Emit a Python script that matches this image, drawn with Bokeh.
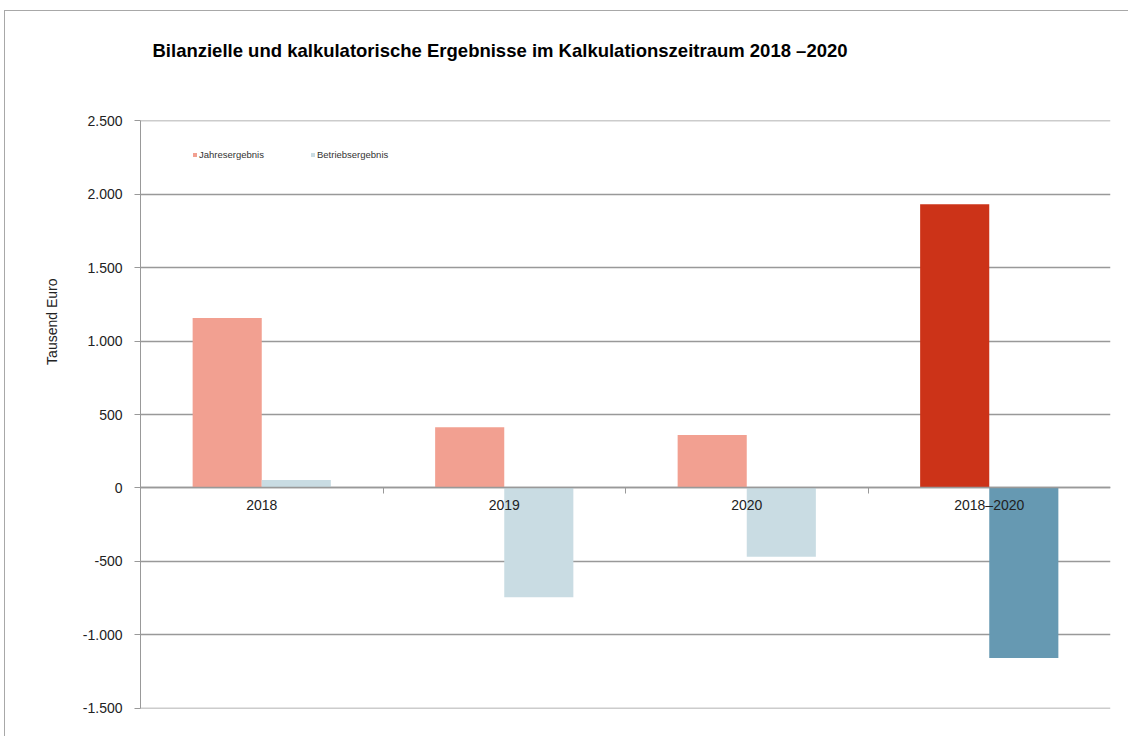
from bokeh.plotting import figure
from bokeh.models import Range1d, FixedTicker, LinearAxis, Legend, LegendItem, Title, Grid
from bokeh.embed import file_html
from bokeh.resources import INLINE

categories = ["2018", "2019", "2020", "2018–2020"]
jahresergebnis = [1157, 414, 360, 1931]
betriebsergebnis = [55, -743, -469, -1157]
j_colors = ["#F2A091", "#F2A091", "#F2A091", "#CC3318"]
b_colors = ["#C9DCE3", "#C9DCE3", "#C9DCE3", "#6699B2"]
y_ticks = [-1500, -1000, -500, 0, 500, 1000, 1500, 2000, 2500]
y_tick_labels = ["-1.500", "-1.000", "-500", "0", "500", "1.000", "1.500", "2.000", "2.500"]

FONT = "Liberation Sans"
bar_w = 0.285
n = len(categories)
centers = [i + 0.5 for i in range(n)]

p = figure(width=1124, height=726, output_backend="svg", toolbar_location=None,
           x_range=Range1d(0, n), y_range=Range1d(-1501, 2501),
           min_border_left=135, min_border_right=19, min_border_top=109, min_border_bottom=29,
           x_axis_type=None, y_axis_type=None)
p.outline_line_color = None
p.background_fill_color = "white"
p.border_fill_color = "white"
p.styles = {"border-top": "1px solid #a8a8a8", "border-left": "1px solid #a8a8a8",
            "margin-top": "10px", "margin-left": "4px"}

# blank spacer below the title, then the title itself
p.add_layout(Title(text=" ", text_font=FONT, text_font_size="52px", standoff=0), "above")
title = Title(text="Bilanzielle und kalkulatorische Ergebnisse im Kalkulationszeitraum 2018 –2020",
              text_font=FONT, text_font_size="18.5px", text_font_style="bold", text_color="#000000",
              align="left", offset=12, standoff=0)
p.add_layout(title, "above")

# y axis
yax = LinearAxis(ticker=FixedTicker(ticks=y_ticks),
                 major_label_overrides={t: l for t, l in zip(y_ticks, y_tick_labels)})
yax.axis_line_color = "#999999"
yax.major_tick_line_color = "#999999"
yax.major_tick_out = 6
yax.major_tick_in = 0
yax.minor_tick_line_color = None
yax.major_label_text_font = FONT
yax.major_label_text_font_size = "14px"
yax.major_label_text_color = "#222222"
yax.major_label_standoff = 12
p.add_layout(yax, "left")

# y axis title
p.add_layout(Title(text="Tausend Euro", text_font=FONT, text_font_size="14px",
                   text_font_style="normal", text_color="#222222",
                   align="right", offset=158, standoff=39), "left")

# grid
grid = Grid(dimension=1, ticker=FixedTicker(ticks=y_ticks),
            grid_line_color="#999999", grid_line_width=1.3)
p.add_layout(grid)

# bars
xj = [c - bar_w / 2 for c in centers]
xb = [c + bar_w / 2 for c in centers]
rj = p.vbar(x=xj, top=jahresergebnis, bottom=0, width=bar_w, fill_color=j_colors, line_color=None)
rb = p.vbar(x=xb, top=betriebsergebnis, bottom=0, width=bar_w, fill_color=b_colors, line_color=None)

# x axis at zero
xax = LinearAxis(ticker=FixedTicker(ticks=centers, minor_ticks=list(range(1, n))),
                 major_label_overrides={c: l for c, l in zip(centers, categories)},
                 fixed_location=0)
xax.axis_line_color = "#999999"
xax.axis_line_width = 1.3
xax.major_tick_line_color = None
xax.minor_tick_line_color = "#999999"
xax.minor_tick_out = 6
xax.minor_tick_in = 0
xax.major_label_text_font = FONT
xax.major_label_text_font_size = "14px"
xax.major_label_text_color = "#222222"
xax.major_label_standoff = 3
p.add_layout(xax, "below")

legend = Legend(items=[LegendItem(label="Jahresergebnis", renderers=[rj], index=0),
                       LegendItem(label="Betriebsergebnis", renderers=[rb], index=0)],
                orientation="horizontal", location=(52, 548),
                label_text_font=FONT, label_text_font_size="9.5px", label_text_color="#333333",
                glyph_width=5, glyph_height=5, label_standoff=2, spacing=46,
                padding=2, margin=0, border_line_color=None, background_fill_alpha=0)
p.add_layout(legend, "center")

open("out.html", "w").write(file_html(p, INLINE))
